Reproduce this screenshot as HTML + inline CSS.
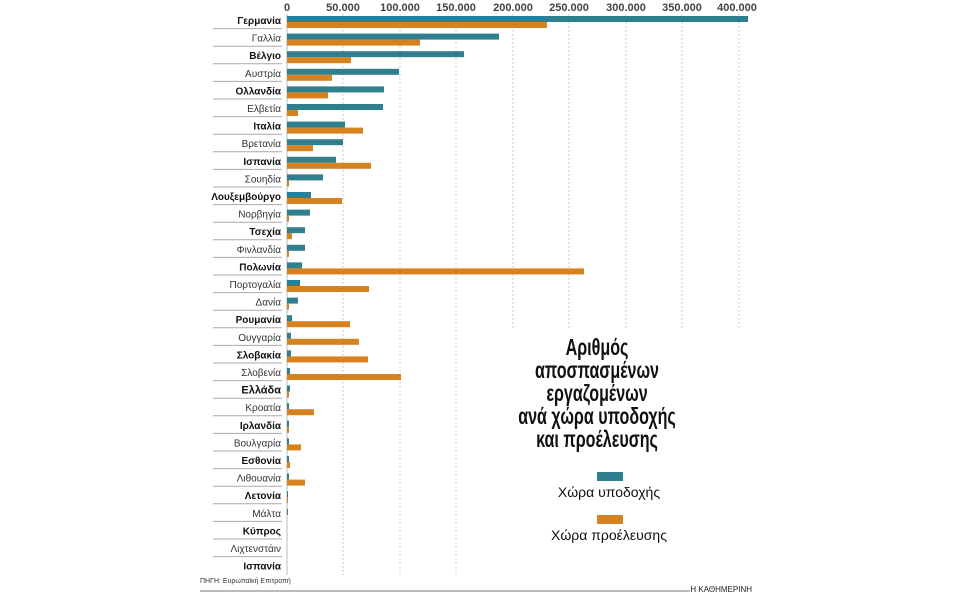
<!DOCTYPE html>
<html><head><meta charset="utf-8"><style>
html,body{margin:0;padding:0;background:#fff;}
svg{display:block;font-family:"Liberation Sans","DejaVu Sans",sans-serif;}
.l{font-size:10px;fill:#333;text-anchor:end;}
.b{font-weight:bold;fill:#111;}
.t{font-size:11px;font-weight:bold;fill:#444;text-anchor:middle;}
.bl{fill:#2f7f8e;}
.or{fill:#d6821f;}
.g{stroke:#bbb;stroke-width:1;stroke-dasharray:1.5,2.5;}
.s{stroke:#aaa;stroke-width:1;}
.h{font-size:23px;font-weight:bold;fill:#111;text-anchor:middle;}
.lg{font-size:14px;fill:#111;text-anchor:middle;}
</style></head><body>
<svg width="958" height="598" viewBox="0 0 958 598" xmlns="http://www.w3.org/2000/svg">
<g class="t">
<text x="287" y="11">0</text><text x="343" y="11">50.000</text><text x="400" y="11">100.000</text><text x="456" y="11">150.000</text><text x="513" y="11">200.000</text><text x="569" y="11">250.000</text><text x="626" y="11">300.000</text><text x="682" y="11">350.000</text><text x="737" y="11">400.000</text>
</g>
<line x1="287" y1="14" x2="287" y2="575" stroke="#bbb"/>
<g class="g">
<line x1="343" y1="14" x2="343" y2="575"/><line x1="400" y1="14" x2="400" y2="575"/><line x1="456" y1="14" x2="456" y2="575"/><line x1="513" y1="14" x2="513" y2="330"/><line x1="569" y1="14" x2="569" y2="330"/><line x1="626" y1="14" x2="626" y2="330"/><line x1="682" y1="14" x2="682" y2="330"/><line x1="739" y1="14" x2="739" y2="330"/>
</g>
<g class="s">
<line x1="213" y1="28.6" x2="282" y2="28.6"/><line x1="213" y1="46.2" x2="282" y2="46.2"/><line x1="213" y1="63.8" x2="282" y2="63.8"/><line x1="213" y1="81.4" x2="282" y2="81.4"/><line x1="213" y1="99" x2="282" y2="99"/><line x1="213" y1="116.6" x2="282" y2="116.6"/><line x1="213" y1="134.2" x2="282" y2="134.2"/><line x1="213" y1="151.8" x2="282" y2="151.8"/><line x1="213" y1="169.4" x2="282" y2="169.4"/><line x1="213" y1="187" x2="282" y2="187"/><line x1="213" y1="204.6" x2="282" y2="204.6"/><line x1="213" y1="222.2" x2="282" y2="222.2"/><line x1="213" y1="239.8" x2="282" y2="239.8"/><line x1="213" y1="257.4" x2="282" y2="257.4"/><line x1="213" y1="275" x2="282" y2="275"/><line x1="213" y1="292.6" x2="282" y2="292.6"/><line x1="213" y1="310.2" x2="282" y2="310.2"/><line x1="213" y1="327.8" x2="282" y2="327.8"/><line x1="213" y1="345.4" x2="282" y2="345.4"/><line x1="213" y1="363" x2="282" y2="363"/><line x1="213" y1="380.6" x2="282" y2="380.6"/><line x1="213" y1="398.2" x2="282" y2="398.2"/><line x1="213" y1="415.8" x2="282" y2="415.8"/><line x1="213" y1="433.4" x2="282" y2="433.4"/><line x1="213" y1="451" x2="282" y2="451"/><line x1="213" y1="468.6" x2="282" y2="468.6"/><line x1="213" y1="486.2" x2="282" y2="486.2"/><line x1="213" y1="503.8" x2="282" y2="503.8"/><line x1="213" y1="521.4" x2="282" y2="521.4"/><line x1="213" y1="539" x2="282" y2="539"/><line x1="213" y1="556.6" x2="282" y2="556.6"/>
</g>
<g class="l">
<text x="281" y="24" class="b">Γερμανία</text>
<text x="281" y="41.6">Γαλλία</text>
<text x="281" y="59.2" class="b">Βέλγιο</text>
<text x="281" y="76.8">Αυστρία</text>
<text x="281" y="94.4" class="b">Ολλανδία</text>
<text x="281" y="112">Ελβετία</text>
<text x="281" y="129.6" class="b">Ιταλία</text>
<text x="281" y="147.2">Βρετανία</text>
<text x="281" y="164.8" class="b">Ισπανία</text>
<text x="281" y="182.4">Σουηδία</text>
<text x="281" y="200" class="b">Λουξεμβούργο</text>
<text x="281" y="217.6">Νορβηγία</text>
<text x="281" y="235.2" class="b">Τσεχία</text>
<text x="281" y="252.8">Φινλανδία</text>
<text x="281" y="270.4" class="b">Πολωνία</text>
<text x="281" y="288">Πορτογαλία</text>
<text x="281" y="305.6">Δανία</text>
<text x="281" y="323.2" class="b">Ρουμανία</text>
<text x="281" y="340.8">Ουγγαρία</text>
<text x="281" y="358.4" class="b">Σλοβακία</text>
<text x="281" y="376">Σλοβενία</text>
<text x="281" y="393.6" class="b" style="font-size:11px">Ελλάδα</text>
<text x="281" y="411.2">Κροατία</text>
<text x="281" y="428.8" class="b">Ιρλανδία</text>
<text x="281" y="446.4">Βουλγαρία</text>
<text x="281" y="464" class="b">Εσθονία</text>
<text x="281" y="481.6">Λιθουανία</text>
<text x="281" y="499.2" class="b">Λετονία</text>
<text x="281" y="516.8">Μάλτα</text>
<text x="281" y="534.4" class="b">Κύπρος</text>
<text x="281" y="552">Λιχτενστάιν</text>
<text x="281" y="569.6" class="b">Ισπανία</text>
</g>
<g class="bl">
<rect x="287" y="16" width="461" height="6"/>
<rect x="287" y="33.6" width="212" height="6"/>
<rect x="287" y="51.2" width="177" height="6"/>
<rect x="287" y="68.8" width="112" height="6"/>
<rect x="287" y="86.4" width="97" height="6"/>
<rect x="287" y="104" width="96" height="6"/>
<rect x="287" y="121.6" width="58" height="6"/>
<rect x="287" y="139.2" width="56" height="6"/>
<rect x="287" y="156.8" width="49" height="6"/>
<rect x="287" y="174.4" width="36" height="6"/>
<rect x="287" y="192" width="24" height="6"/>
<rect x="287" y="209.6" width="23" height="6"/>
<rect x="287" y="227.2" width="18" height="6"/>
<rect x="287" y="244.8" width="18" height="6"/>
<rect x="287" y="262.4" width="15" height="6"/>
<rect x="287" y="280" width="13" height="6"/>
<rect x="287" y="297.6" width="11" height="6"/>
<rect x="287" y="315.2" width="5" height="6"/>
<rect x="287" y="332.8" width="4" height="6"/>
<rect x="287" y="350.4" width="4" height="6"/>
<rect x="287" y="368" width="3" height="6"/>
<rect x="287" y="385.6" width="3" height="6"/>
<rect x="287" y="403.2" width="2" height="6"/>
<rect x="287" y="420.8" width="2" height="6"/>
<rect x="287" y="438.4" width="2" height="6"/>
<rect x="287" y="456" width="2" height="6"/>
<rect x="287" y="473.6" width="2" height="6"/>
<rect x="287" y="491.2" width="1" height="6"/>
<rect x="287" y="508.8" width="1" height="6"/>
</g>
<g class="or">
<rect x="287" y="22" width="260" height="6"/>
<rect x="287" y="39.6" width="133" height="6"/>
<rect x="287" y="57.2" width="64" height="6"/>
<rect x="287" y="74.8" width="45" height="6"/>
<rect x="287" y="92.4" width="41" height="6"/>
<rect x="287" y="110" width="11" height="6"/>
<rect x="287" y="127.6" width="76" height="6"/>
<rect x="287" y="145.2" width="26" height="6"/>
<rect x="287" y="162.8" width="84" height="6"/>
<rect x="287" y="180.4" width="2" height="6"/>
<rect x="287" y="198" width="55" height="6"/>
<rect x="287" y="215.6" width="2" height="6"/>
<rect x="287" y="233.2" width="5" height="6"/>
<rect x="287" y="250.8" width="2" height="6"/>
<rect x="287" y="268.4" width="297" height="6"/>
<rect x="287" y="286" width="82" height="6"/>
<rect x="287" y="303.6" width="2" height="6"/>
<rect x="287" y="321.2" width="63" height="6"/>
<rect x="287" y="338.8" width="72" height="6"/>
<rect x="287" y="356.4" width="81" height="6"/>
<rect x="287" y="374" width="114" height="6"/>
<rect x="287" y="391.6" width="2" height="6"/>
<rect x="287" y="409.2" width="27" height="6"/>
<rect x="287" y="426.8" width="2" height="6"/>
<rect x="287" y="444.4" width="14" height="6"/>
<rect x="287" y="462" width="3" height="6"/>
<rect x="287" y="479.6" width="18" height="6"/>
<rect x="287" y="497.2" width="1" height="6"/>
</g>
<g class="h" transform="translate(597,0) scale(0.7,1)">
<text x="0" y="355">Αριθμός</text>
<text x="0" y="378">αποσπασμένων</text>
<text x="0" y="401">εργαζομένων</text>
<text x="0" y="424">ανά χώρα υποδοχής</text>
<text x="0" y="447">και προέλευσης</text>
</g>
<rect x="597" y="472" width="26" height="9" class="bl"/>
<text x="609" y="497" class="lg">Χώρα υποδοχής</text>
<rect x="597" y="515" width="26" height="9" class="or"/>
<text x="609" y="540" class="lg">Χώρα προέλευσης</text>
<text x="200" y="583" style="font-size:7px;fill:#333">ΠΗΓΗ: Ευρωπαϊκή Επιτροπή</text>
<line x1="200" y1="591" x2="690" y2="591" stroke="#bbb" stroke-width="2"/>
<text x="752" y="592" style="font-size:8px;fill:#222;text-anchor:end">Η ΚΑΘΗΜΕΡΙΝΗ</text>
</svg>
</body></html>
